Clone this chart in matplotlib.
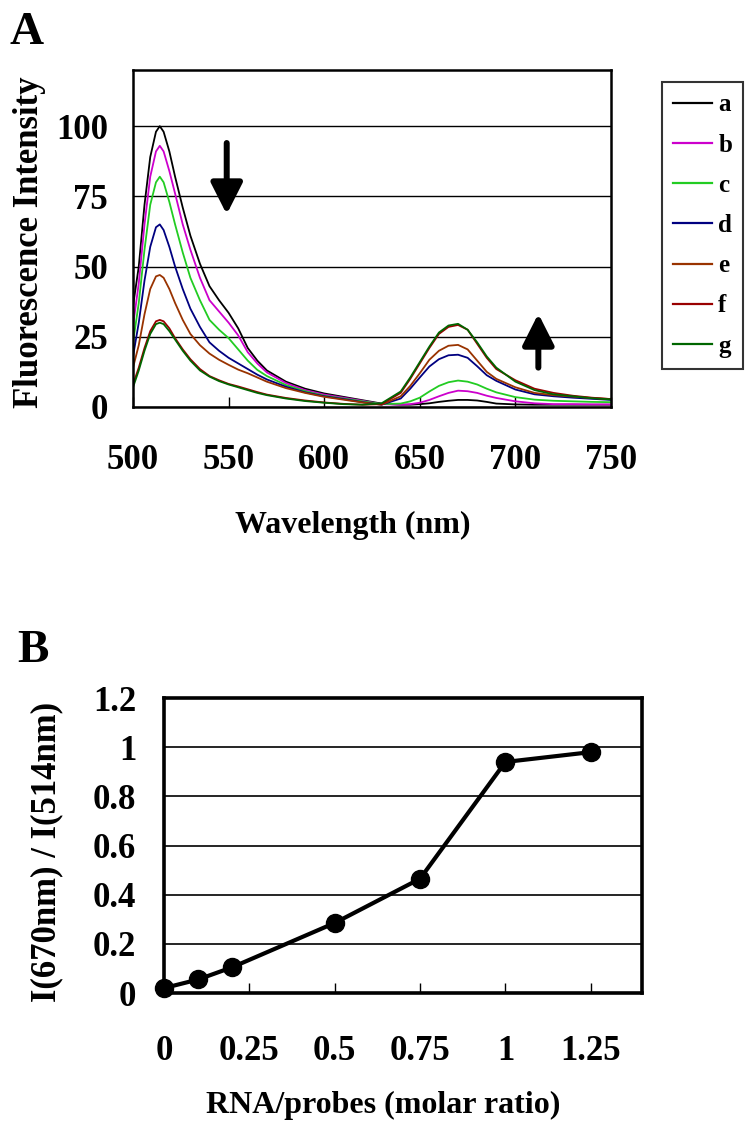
import matplotlib.pyplot as plt

plt.rcParams['font.family'] = ['Liberation Serif', 'DejaVu Serif']
plt.rcParams['font.weight'] = 'bold'

# Panel A: emission spectra
wavelength = [500, 503, 506, 509, 512, 514, 516, 519, 522, 526, 530, 535, 540, 545,
              550, 555, 560, 565, 570, 580, 590, 600, 610, 620, 630, 640, 645, 650,
              655, 660, 665, 670, 675, 680, 685, 690, 700, 710, 720, 730, 740, 750]

spec_a = [36, 50, 72, 89, 98, 100, 98, 91, 82, 71, 61, 51, 43, 38,
          33.5, 28, 21, 16.5, 13, 9, 6.5, 4.8, 3.6, 2.4, 1.2, 0.8, 0.8, 1.0,
          1.3, 1.8, 2.2, 2.5, 2.5, 2.3, 1.8, 1.2, 0.9, 0.8, 0.8, 0.8, 0.8, 0.8]
spec_b = [29, 44, 65, 82, 91, 93, 91, 84, 76, 65, 56, 46, 38, 34,
          30, 25.5, 19.5, 15.5, 12.3, 8.5, 6.0, 4.4, 3.3, 2.2, 1.0, 0.8, 1.0, 1.5,
          2.5, 3.8, 5.0, 5.8, 5.6, 5.0, 4.0, 3.2, 2.0, 1.3, 1.0, 1.0, 0.9, 0.9]
spec_c = [23, 37, 56, 72, 80, 82, 80, 73, 65, 55, 46, 38, 31, 27.5,
          24.5, 20.5, 16.5, 13.2, 11, 7.8, 5.6, 4.0, 3.0, 2.0, 1.0, 1.2, 2.0, 3.3,
          5.5, 7.5, 8.8, 9.4, 9.0, 8.0, 6.5, 5.2, 3.5, 2.6, 2.2, 2.0, 1.8, 1.7]
spec_d = [18, 30, 45, 57, 64, 65, 63, 57, 50, 42, 35, 28.5, 23, 20,
          17.5, 15.5, 13.5, 11.5, 9.8, 7.2, 5.2, 3.8, 2.8, 1.7, 0.8, 3.0, 6.5, 10.5,
          14.4, 17, 18.4, 18.6, 17.5, 14.5, 11.3, 9.3, 6.2, 4.5, 3.8, 3.3, 2.9, 2.5]
spec_e = [14, 22, 33, 42, 46.5, 47, 46, 42, 37, 31, 26, 22, 19, 16.8,
          15, 13.3, 12, 10.5, 9, 6.7, 5.0, 3.6, 2.6, 1.6, 0.8, 3.8, 7.5, 12,
          16.8, 20, 21.8, 22.1, 20.5, 16.5, 12.5, 10, 7.0, 5.0, 4.2, 3.7, 3.2, 2.8]
spec_f = [8, 14, 21, 27, 30.5, 31, 30.5, 28, 24.5, 20.5, 17, 13.5, 11, 9.5,
          8.2, 7.3, 6.3, 5.3, 4.4, 3.2, 2.3, 1.6, 1.1, 0.8, 1.0, 5, 10, 15.5,
          21, 26, 28.5, 29.2, 27.5, 22.5, 17.5, 13.5, 9.5, 6.5, 5.0, 4.0, 3.3, 2.8]
spec_g = [7, 13, 20, 26, 29.5, 30, 29.5, 27, 24, 20, 16.5, 13, 10.8, 9.2,
          8, 7, 6, 5.0, 4.2, 3.0, 2.1, 1.5, 1.0, 0.8, 1.3, 5.5, 10.5, 16,
          21.5, 26.5, 29, 29.6, 27.5, 23, 18, 14, 9.0, 6.0, 4.5, 3.8, 3.1, 2.7]

spectra = [spec_a, spec_b, spec_c, spec_d, spec_e, spec_f, spec_g]
series_labels = ['a', 'b', 'c', 'd', 'e', 'f', 'g']
series_colors = ['#000000', '#CC00CC', '#22CC22', '#000080', '#993300', '#990000', '#006600']

# Panel B: intensity ratio vs molar ratio
molar_ratio = [0, 0.1, 0.2, 0.5, 0.75, 1.0, 1.25]
int_ratio = [0.02, 0.055, 0.105, 0.285, 0.465, 0.94, 0.98]

fig = plt.figure(figsize=(7.52, 11.38), dpi=100)

# ---- panel A
axA = fig.add_axes([0.1769, 0.6424, 0.6356, 0.2961])
for s, lab, col in zip(spectra, series_labels, series_colors):
    axA.plot(wavelength, s, color=col, lw=1.3, label=lab)
axA.set_xlim(500, 750)
axA.set_ylim(0, 120)
axA.set_yticks([0, 25, 50, 75, 100])
axA.set_xticks([500, 550, 600, 650, 700, 750])
axA.yaxis.grid(True, color='black', lw=1.0)
axA.set_axisbelow(True)
axA.tick_params(axis='y', length=0, pad=18, labelsize=25)
axA.tick_params(axis='x', direction='in', length=7, width=1.0, pad=27, labelsize=25)
for sp in axA.spines.values():
    sp.set_linewidth(1.8)

# arrows showing the trend
axA.annotate('', xy=(549, 68.6), xytext=(549, 94),
             arrowprops=dict(arrowstyle='-|>,head_length=0.95,head_width=0.48',
                             lw=4.3, color='black', mutation_scale=20,
                             shrinkA=0, shrinkB=0))
axA.annotate('', xy=(712, 33.2), xytext=(712, 14),
             arrowprops=dict(arrowstyle='-|>,head_length=0.95,head_width=0.48',
                             lw=4.3, color='black', mutation_scale=20,
                             shrinkA=0, shrinkB=0))

leg = fig.legend(loc='upper left', bbox_to_anchor=(662 / 752, 1 - 82 / 1138),
                 frameon=True, fancybox=False, edgecolor='black', fontsize=18,
                 handlelength=1.55, handletextpad=0.25, labelspacing=0.69,
                 borderpad=0.45, borderaxespad=0)
leg.get_frame().set_linewidth(1.5)
for ln in leg.get_lines():
    ln.set_linewidth(1.6)

fig.text(27 / 752, 1 - 33 / 1138, 'A', fontsize=34, ha='center', va='center')
fig.text(30 / 752, 1 - 242 / 1138, 'Fluorescence Intensity', fontsize=25,
         rotation=90, ha='center', va='center')
fig.text(353 / 752, 1 - 525 / 1138, 'Wavelength (nm)', fontsize=23,
         ha='center', va='center')

# ---- panel B
axB = fig.add_axes([0.2181, 0.1274, 0.6356, 0.2592])
axB.plot(molar_ratio, int_ratio, color='black', lw=3.0, marker='o',
         markersize=13, clip_on=False, zorder=3)
axB.set_xlim(0, 1.4)
axB.set_ylim(0, 1.2)
axB.set_xticks([0, 0.25, 0.5, 0.75, 1.0, 1.25])
axB.set_xticklabels(['0', '0.25', '0.5', '0.75', '1', '1.25'])
axB.set_yticks([0, 0.2, 0.4, 0.6, 0.8, 1.0, 1.2])
axB.set_yticklabels(['0', '0.2', '0.4', '0.6', '0.8', '1', '1.2'])
axB.yaxis.grid(True, color='black', lw=1.2)
axB.set_axisbelow(True)
axB.tick_params(axis='y', length=0, pad=20, labelsize=25)
axB.tick_params(axis='x', direction='in', length=7, width=1.0, pad=30, labelsize=25)
for sp in axB.spines.values():
    sp.set_linewidth(2.6)

fig.text(33 / 752, 1 - 651 / 1138, 'B', fontsize=34, ha='center', va='center')
fig.text(47 / 752, 1 - 852 / 1138, 'I(670nm) / I(514nm)', fontsize=25,
         rotation=90, ha='center', va='center')
fig.text(383 / 752, 1 - 1105 / 1138, 'RNA/probes (molar ratio)', fontsize=23,
         ha='center', va='center')

fig.savefig('out.png', dpi=100)
